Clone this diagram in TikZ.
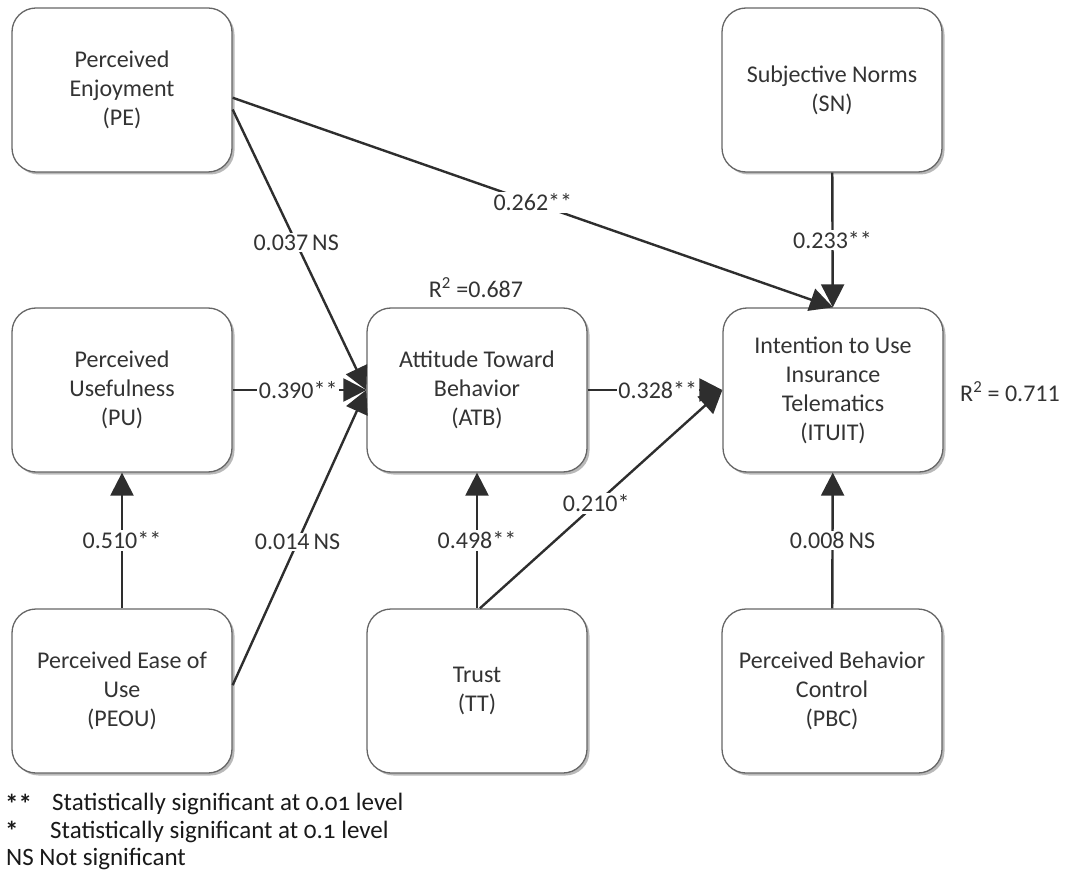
\documentclass[tikz,border=0pt]{standalone}
\usepackage{fontspec}
\setmainfont{Carlito}
\newfontfamily\legendfont[Numbers=OldStyle]{Carlito}
\usetikzlibrary{arrows.meta,shadows,calc}
\definecolor{txt}{HTML}{333333}
\definecolor{ln}{HTML}{2E2E2E}
\definecolor{bx}{HTML}{666666}
\begin{document}
\begin{tikzpicture}[x=1pt,y=-1pt,
  box/.style={draw=bx, line width=1.3pt, rounded corners=24pt, fill=white,
    minimum width=220pt, minimum height=164pt, align=center, text=txt,
    font=\fontsize{24}{29}\selectfont,
    drop shadow={shadow xshift=2.5pt, shadow yshift=-2.5pt, fill=gray!55, opacity=1}},
  arr/.style={draw=ln, line width=2.4pt, -{Triangle[length=23pt,width=23pt]}},
  lab/.style={fill=white, inner sep=1.5pt, text=txt, font=\fontsize{24}{29}\selectfont},
  leg/.style={anchor=base west, inner sep=0pt, text=black!90, font=\legendfont\fontsize{25}{28}\selectfont},
  star/.style={anchor=base west, inner sep=0pt, text=black!90,
    font=\bfseries\fontsize{27}{27}\selectfont}]
\useasboundingbox (0,0) rectangle (1065,882);

\node[box] (PE) at (122,90) {Perceived\\Enjoyment\\(PE)};
\node[box] (SN) at (832,90) {Subjective Norms\\(SN)};
\node[box] (PU) at (122,390) {Perceived\\Usefulness\\(PU)};
\node[box] (ATB) at (477,390) {Attitude Toward\\Behavior\\(ATB)};
\node[box] (ITUIT) at (833,390) {Intention to Use\\Insurance\\Telematics\\(ITUIT)};
\node[box] (PEOU) at (122,691) {Perceived Ease of\\Use\\(PEOU)};
\node[box] (TT) at (477,691) {Trust\\(TT)};
\node[box] (PBC) at (832,691) {Perceived Behavior\\Control\\(PBC)};

\draw[arr] (PE.-10) -- node[lab, pos=0.475] (l1) {0.037\,NS} (ATB.west);
\draw[arr] (PE.-4) -- node[lab, pos=0.5] (l2) {0.262**} (ITUIT.north);
\draw[arr] (SN) -- node[lab, pos=0.5] (l3) {0.233**} (ITUIT);
\draw[arr] (PU) -- node[lab, pos=0.49] (l4) {0.390**} (ATB);
\draw[arr] (PEOU.3) -- node[lab, pos=0.485] (l5) {0.014\,NS} (ATB.west);
\draw[arr] (PEOU) -- node[lab, pos=0.5] (l6) {0.510**} (PU);
\draw[arr] (ATB) -- node[lab, pos=0.52] (l7) {0.328**} (ITUIT);
\draw[arr] (TT) -- node[lab, pos=0.5] (l8) {0.498**} (ATB);
\draw[arr] (TT.88) -- node[lab, pos=0.48] (l9) {0.210*} (ITUIT.west);
\draw[arr] (PBC) -- node[lab, pos=0.5] (l10) {0.008\,NS} (ITUIT);

\node[lab, fill=none] (r1) at (476,288) {R\textsuperscript{2} =0.687};
\node[lab, fill=none] (r2) at (1010,392) {R\textsuperscript{2} = 0.711};

\node[star] (k1) at (5,813) {**};
\node[leg] (t1) at (52,810) {Statistically significant at 0.01 level};
\node[star] (k2) at (5,840) {*};
\node[leg] (t2) at (50,838) {Statistically significant at 0.1 level};
\node[leg] (t3) at (6,865) {NS Not significant};
\end{tikzpicture}
\end{document}
